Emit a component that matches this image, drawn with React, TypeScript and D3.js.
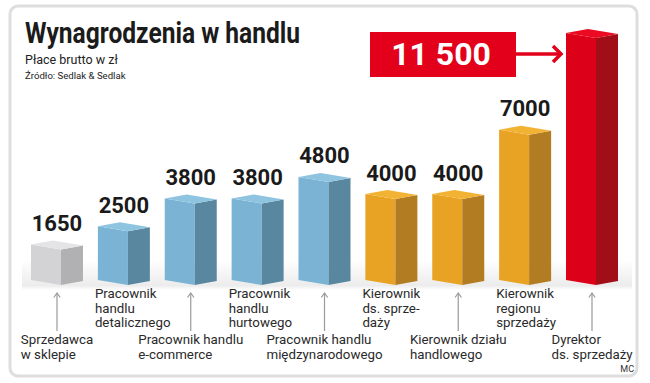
import React from "react";
import * as d3 from "d3";

const labels: string[][] = [
  ["Sprzedawca", "w sklepie"],
  ["Pracownik", "handlu", "detalicznego"],
  ["Pracownik handlu", "e-commerce"],
  ["Pracownik", "handlu", "hurtowego"],
  ["Pracownik handlu", "międzynarodowego"],
  ["Kierownik", "ds. sprze-", "daży"],
  ["Kierownik działu", "handlowego"],
  ["Kierownik", "regionu", "sprzedaży"],
  ["Dyrektor", "ds. sprzedaży"],
];
const salaries = [1650, 2500, 3800, 3800, 4800, 4000, 4000, 7000, 11500];
const valueLabels = ["1650", "2500", "3800", "3800", "4800", "4000", "4000", "7000", "11 500"];
const groups = [
  "sprzedawca",
  "pracownik",
  "pracownik",
  "pracownik",
  "pracownik",
  "kierownik",
  "kierownik",
  "kierownik",
  "dyrektor",
];
const title = "Wynagrodzenia w handlu";
const subtitle = "Płace brutto w zł";
const source = "Źródło: Sedlak & Sedlak";
const credit = "MC";

const palette: Record<string, { top: string; front: string; side: string }> = {
  sprzedawca: { top: "#e4e4e6", front: "#d3d3d5", side: "#b1b1b3" },
  pracownik: { top: "#8fc4e0", front: "#7ab3d3", side: "#5a87a0" },
  kierownik: { top: "#f2b334", front: "#e8a324", side: "#b27c22" },
  dyrektor: { top: "#ea0a22", front: "#dc0019", side: "#a10e18" },
};

const FONT = "Roboto, 'Open Sans', sans-serif";
const LABEL_SIZE = 13.3;
const FW = 30; // front width
const SW = 22; // side width
const DF = 5; // front slope
const DS = 4; // side rise
const BASE = 280;

let measureCtx: CanvasRenderingContext2D | null = null;
function textWidth(s: string, font: string) {
  if (!measureCtx) {
    const c = document.createElement("canvas");
    measureCtx = c.getContext("2d");
  }
  if (!measureCtx) return s.length * 6.5;
  measureCtx.font = font;
  return measureCtx.measureText(s).width;
}

export default function App() {
  const idx = d3.range(salaries.length);
  const x = d3.scalePoint<number>().domain(idx).range([31, 566]);
  const y = d3.scaleLinear().domain([0, 11500]).range([BASE, 33]);
  const last = salaries.length - 1;

  const pts = (arr: [number, number][]) => arr.map((p) => p.join(",")).join(" ");

  return (
    <div style={{ position: "absolute", left: 0, top: 0 }}>
      <svg width={650} height={383} style={{ display: "block", fontFamily: FONT }}>
        <defs>
          <linearGradient id="ground" x1="0" y1="0" x2="0" y2="1">
            <stop offset="0" stopColor="#e4e4e4" stopOpacity={0} />
            <stop offset="0.85" stopColor="#e4e4e4" stopOpacity={0.7} />
            <stop offset="1" stopColor="#e4e4e4" stopOpacity={0} />
          </linearGradient>
        </defs>
        <rect x={0} y={0} width={650} height={383} fill="#ffffff" />
        <rect x={10} y={6} width={627} height={370} rx={8} fill="#ffffff" stroke="#dedede" strokeWidth={3} />

        <text x={25} y={42.5} fontSize={30} fontWeight={700} fill="#1b1b1b" textLength={275} lengthAdjust="spacingAndGlyphs">
          {title}
        </text>
        <text x={25} y={64} fontSize={12.5} fill="#222">
          {subtitle}
        </text>
        <text x={25} y={79} fontSize={9.6} fill="#222">
          {source}
        </text>

        <rect x={22} y={260} width={610} height={30} fill="url(#ground)" />

        {idx.map((i) => {
          const x0 = x(i) as number;
          const yT = y(salaries[i]);
          const c = palette[groups[i]];
          const A: [number, number] = [x0, yT];
          const B: [number, number] = [x0 + FW, yT + DF];
          const C: [number, number] = [x0 + FW + SW, yT + DF - DS];
          const D: [number, number] = [x0 + SW, yT - DS];
          const E: [number, number] = [x0, BASE];
          const F: [number, number] = [x0 + FW, BASE + DF];
          const G: [number, number] = [x0 + FW + SW, BASE + DF - DS];
          return (
            <g key={i}>
              <polygon points={pts([A, B, F, E])} fill={c.front} />
              <polygon points={pts([B, C, G, F])} fill={c.side} />
              <polygon points={pts([A, D, C, B])} fill={c.top} />
              {i !== last && (
                <text x={x0 + 26} y={yT - 13.5} textAnchor="middle" fontSize={22} fontWeight={700} fill="#1a1a1a">
                  {valueLabels[i]}
                </text>
              )}
            </g>
          );
        })}

        {/* highlight box for the top value */}
        {(() => {
          const x0 = x(last) as number;
          const tip = x0 - 5;
          return (
            <g>
              <rect x={370} y={32} width={146} height={45} fill="#e2001a" />
              <text x={441} y={64.5} textAnchor="middle" fontSize={32} fontWeight={700} fill="#ffffff">
                {valueLabels[last]}
              </text>
              <line x1={515} y1={54} x2={tip - 1} y2={54} stroke="#e2001a" strokeWidth={3.5} />
              <polyline points={pts([[tip - 8, 46], [tip, 54], [tip - 8, 62]])} fill="none" stroke="#e2001a" strokeWidth={3.5} />
            </g>
          );
        })()}

        {idx.map((i) => {
          const x0 = x(i) as number;
          const lines = labels[i];
          if (i % 2 === 1) {
            return (
              <text key={"l" + i} fontSize={LABEL_SIZE} fill="#2a2a2a">
                {lines.map((s, k) => (
                  <tspan key={k} x={x0 - 3} y={298 + k * 14.5}>
                    {s}
                  </tspan>
                ))}
              </text>
            );
          }
          const cx = x0 + 26;
          const w = d3.max(lines, (s) => textWidth(s, `${LABEL_SIZE}px ${FONT}`)) || 0;
          const lx = cx - w / 2;
          return (
            <g key={"l" + i}>
              <line x1={cx} y1={293} x2={cx} y2={331} stroke="#9a9a9a" strokeWidth={1.2} />
              <polyline points={pts([[cx - 3.2, 297.5], [cx, 293], [cx + 3.2, 297.5]])} fill="none" stroke="#9a9a9a" strokeWidth={1.2} />
              <text fontSize={LABEL_SIZE} fill="#2a2a2a">
                {lines.map((s, k) => (
                  <tspan key={k} x={lx} y={344 + k * 15}>
                    {s}
                  </tspan>
                ))}
              </text>
            </g>
          );
        })}

        <text x={634} y={372} textAnchor="end" fontSize={9} fill="#333">
          {credit}
        </text>
      </svg>
    </div>
  );
}
